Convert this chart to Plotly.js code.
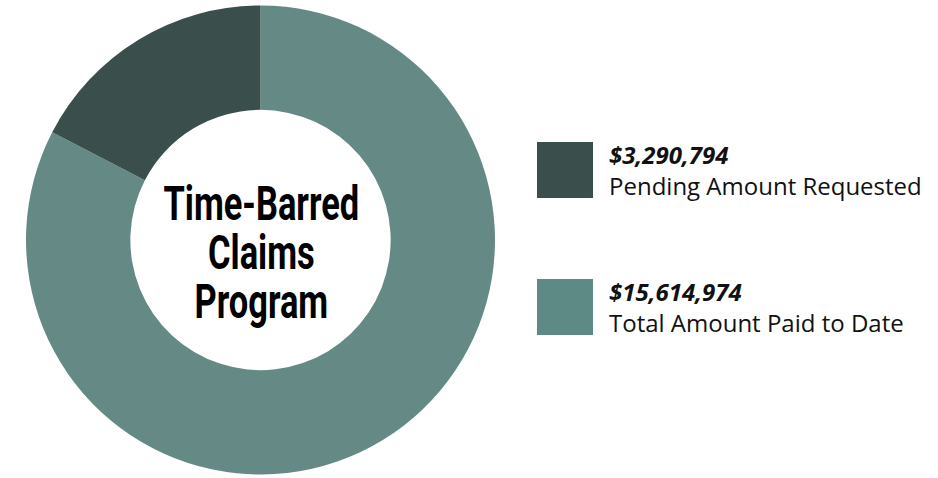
<!DOCTYPE html>
<html>
<head>
<meta charset="utf-8">
<script src="https://cdn.plot.ly/plotly-3.0.1.min.js"></script>
<style>html,body{margin:0;padding:0;background:#fff;}#chart{width:938px;height:478px;}</style>
</head>
<body>
<div id="chart"></div>
<script>
const labels = ["Pending Amount Requested", "Total Amount Paid to Date"];
const values = [3290794, 15614974];
const sliceColors = ["#3a4f4b", "#658a86"];
const swatchColors = ["#3a4f4b", "#5e8a85"];
const centerTitle = ["Time-Barred", "Claims", "Program"];

function fmt(v) { return "$" + v.toLocaleString("en-US"); }

const W = 938, H = 478;
const px = x => x / W;
const py = y => 1 - y / H;

// Plotly's counterclockwise layout puts the first slice clockwise from 12 o'clock,
// so feed the slices in reverse order to get the pending slice just left of 12 o'clock.
const trace = {
  type: "pie",
  labels: labels.slice().reverse(),
  values: values.slice().reverse(),
  hole: 0.555,
  sort: false,
  direction: "counterclockwise",
  rotation: 0,
  textinfo: "none",
  hoverinfo: "label+value",
  marker: { colors: sliceColors.slice().reverse(), line: { width: 0 } },
  domain: { x: [px(26), px(495)], y: [py(475), py(5)] },
  showlegend: false
};

const swatchTops = [142, 279];
const shapes = [];
const annotations = [];
labels.forEach((lab, i) => {
  const t = swatchTops[i];
  shapes.push({
    type: "rect", xref: "paper", yref: "paper",
    x0: px(537), x1: px(593), y0: py(t + 56), y1: py(t),
    fillcolor: swatchColors[i], line: { width: 0 }
  });
  annotations.push({
    xref: "paper", yref: "paper", x: px(607), y: py(t - 6),
    xanchor: "left", yanchor: "top", showarrow: false, align: "left",
    text: "<b><i>" + fmt(values[i]) + "</i></b><br>" + lab,
    font: { family: "'Open Sans', 'Noto Sans', sans-serif", size: 24, color: "#111" }
  });
});

const titleSize = 42;
annotations.push({
  xref: "paper", yref: "paper", x: px(261), y: py(252),
  xanchor: "center", yanchor: "middle", showarrow: false, align: "center",
  text: "<b>" + centerTitle.join("<br>") + "</b>",
  font: { family: "Roboto, sans-serif", size: titleSize, weight: 900, color: "#000" }
});

const layout = {
  width: W, height: H,
  margin: { l: 0, r: 0, t: 0, b: 0 },
  paper_bgcolor: "#fff",
  shapes: shapes,
  annotations: annotations
};

Plotly.newPlot("chart", [trace], layout, { displayModeBar: false, staticPlot: true }).then(gd => {
  // reshape the centre title to mimic a tall, narrow display face with tight leading
  const groups = gd.querySelectorAll(".annotation");
  const txt = groups[groups.length - 1].querySelector("text");
  if (!txt) return;
  const sx = 0.82, sy = 1.14;
  const lead = 49 / sy; // px between baselines before vertical scaling
  const lines = txt.querySelectorAll("tspan.line");
  lines.forEach((ts, i) => ts.setAttribute("dy", (i * lead / titleSize) + "em"));
  const bb = txt.getBBox();
  const cx = bb.x + bb.width / 2;
  const cy = bb.y + bb.height / 2;
  const base = `translate(${cx},${cy}) scale(${sx},${sy}) translate(${-cx},${-cy})`;
  txt.setAttribute("transform", base);
  // shift so the visual block centre lands at y = 252 in page pixels
  const r = txt.getBoundingClientRect();
  const host = gd.getBoundingClientRect();
  const curCy = r.top - host.top + r.height / 2;
  txt.setAttribute("transform", `translate(0,${252 - curCy}) ` + base);
});
</script>
</body>
</html>
